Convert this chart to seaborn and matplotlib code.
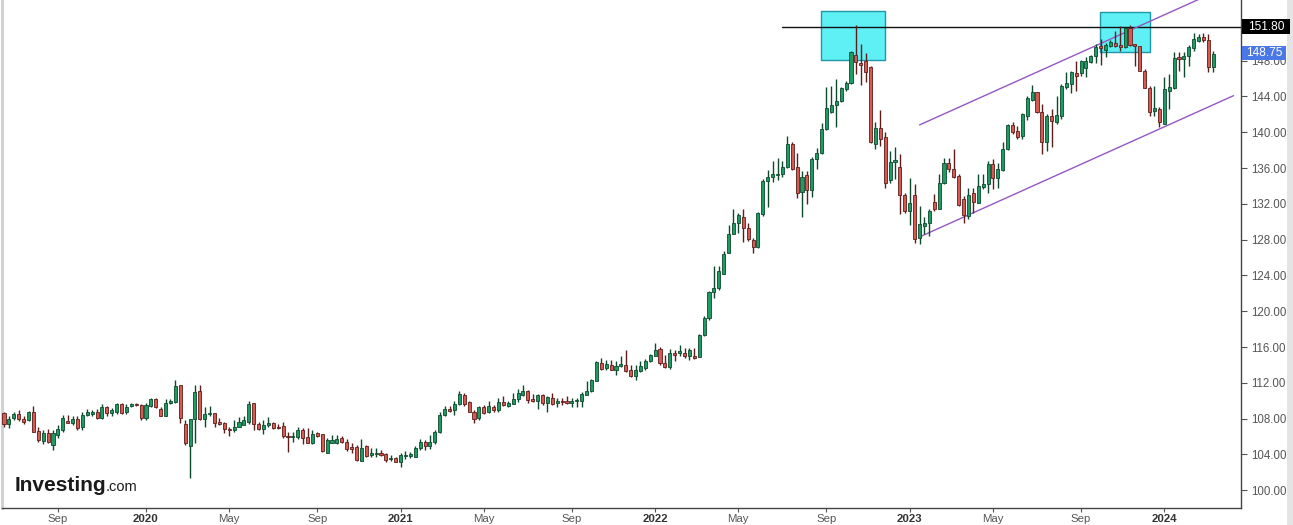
import numpy as np
import pandas as pd
import matplotlib
matplotlib.use("Agg")
import matplotlib.pyplot as plt
import seaborn as sns
from matplotlib.patches import Rectangle

# ---------------- data (weekly USD/JPY candles) ----------------
first_week = "2019-06-17"
opens = [
    108.62, 107.39, 108.05, 108.55, 107.95, 107.80, 108.70, 106.60, 105.50, 106.40,
    105.10, 106.20, 106.75, 107.76, 107.57, 107.95, 107.05, 108.43, 108.50, 108.73,
    108.13, 109.30, 108.62, 108.70, 109.63, 108.70, 109.44, 109.60, 109.55, 108.05,
    109.44, 110.22, 109.07, 108.35, 109.74, 109.85, 111.72, 107.40, 104.90, 107.95,
    111.10, 107.95, 108.55, 108.62, 107.68, 107.50, 106.87, 106.68, 107.12, 107.30,
    107.60, 109.74, 107.43, 106.83, 107.30, 107.50, 107.12, 107.20, 106.08, 105.93,
    105.93, 106.75, 105.99, 105.33, 106.38, 106.27, 104.20, 105.33, 105.33, 105.82,
    105.44, 104.88, 104.88, 103.32, 104.95, 103.95, 104.05, 104.20, 104.05, 103.50,
    103.65, 103.20, 103.84, 103.84, 103.77, 104.70, 105.40, 104.95, 105.45, 106.55,
    108.36, 109.10, 108.92, 109.66, 110.67, 109.81, 108.80, 108.06, 109.29, 108.70,
    109.25, 108.92, 109.85, 109.44, 109.66, 110.22, 110.67, 111.12, 110.22, 109.93,
    110.60, 109.74, 110.30, 109.74, 109.90, 109.93, 109.74, 110.00, 109.93, 110.67,
    111.05, 112.16, 114.22, 113.65, 114.03, 113.40, 113.92, 114.03, 113.47, 112.80,
    113.28, 113.66, 114.40, 115.04, 115.78, 114.22, 113.73, 115.34, 115.34, 115.34,
    114.96, 115.04, 114.89, 117.39, 119.26, 122.10, 122.62, 124.22, 126.47, 128.67,
    129.90, 130.57, 129.34, 127.96, 127.21, 130.83, 134.56, 135.05, 135.23, 135.31,
    136.13, 138.67, 136.17, 133.33, 135.20, 133.55, 137.07, 137.74, 140.35, 142.30,
    143.08, 143.53, 144.84, 145.47, 148.64, 147.74, 147.93, 147.26, 138.68, 140.43,
    139.42, 134.64, 136.73, 136.17, 132.96, 131.21, 132.96, 128.22, 129.53, 129.83,
    132.21, 131.46, 134.30, 136.62, 135.95, 135.13, 132.59, 130.64, 133.19, 132.14,
    133.93, 134.19, 136.43, 134.94, 135.80, 138.11, 140.80, 140.16, 139.53, 141.84,
    143.64, 144.46, 142.30, 138.86, 141.84, 141.10, 141.84, 145.02, 145.39, 146.62,
    146.62, 147.15, 147.90, 148.49, 149.61, 149.24, 149.68, 149.99, 149.76, 149.50,
    151.62, 149.87, 149.61, 146.88, 144.94, 142.40, 142.59, 140.91, 144.64, 144.94,
    148.38, 148.19, 148.49, 149.38, 150.24, 150.62, 150.32, 147.26,
]
highs = [
    108.80, 108.25, 108.80, 109.00, 108.25, 108.90, 109.40, 107.10, 106.75, 106.80,
    106.75, 107.30, 108.40, 108.43, 108.25, 108.25, 108.70, 109.07, 109.00, 109.07,
    109.60, 109.44, 109.20, 109.80, 109.80, 109.60, 109.80, 109.80, 109.63, 109.80,
    110.30, 110.30, 109.30, 110.20, 110.20, 112.35, 111.72, 107.87, 107.95, 111.80,
    111.80, 109.30, 109.44, 108.62, 108.05, 107.68, 107.12, 107.80, 108.17, 108.25,
    109.93, 109.74, 107.60, 107.87, 108.17, 107.68, 107.43, 107.68, 106.56, 106.56,
    107.12, 106.93, 106.93, 106.68, 106.56, 106.30, 105.82, 106.19, 106.19, 106.08,
    105.71, 105.26, 105.07, 105.70, 105.07, 104.70, 104.70, 104.50, 104.14, 103.95,
    103.67, 104.14, 104.40, 104.33, 104.95, 105.75, 105.60, 106.20, 106.70, 108.80,
    109.40, 109.40, 109.93, 111.05, 110.86, 109.93, 108.99, 109.44, 109.55, 109.93,
    109.55, 110.30, 110.48, 109.93, 110.86, 111.30, 111.79, 111.23, 110.75, 110.78,
    110.75, 110.48, 110.86, 110.30, 110.30, 110.56, 110.30, 110.30, 110.93, 112.16,
    112.43, 114.40, 114.78, 114.59, 114.52, 114.40, 115.04, 115.63, 114.03, 114.03,
    114.40, 114.66, 115.26, 116.46, 116.01, 115.15, 115.78, 115.71, 116.27, 115.90,
    115.90, 115.90, 117.50, 119.52, 122.24, 125.10, 125.04, 126.73, 129.60, 131.47,
    130.94, 131.47, 129.90, 128.22, 131.10, 134.75, 135.80, 136.80, 137.18, 136.80,
    139.53, 138.93, 137.66, 135.68, 135.68, 137.29, 138.19, 141.02, 145.10, 145.20,
    145.95, 145.10, 145.69, 149.12, 151.95, 149.87, 148.83, 147.44, 141.10, 142.48,
    140.05, 137.93, 138.30, 137.55, 133.26, 134.94, 134.19, 131.77, 130.57, 131.39,
    133.07, 135.31, 137.18, 137.18, 138.11, 135.31, 132.89, 133.82, 133.82, 135.31,
    135.31, 136.81, 137.00, 136.62, 138.86, 140.90, 141.10, 140.72, 142.14, 144.01,
    145.28, 144.53, 143.15, 142.03, 142.59, 144.01, 145.39, 146.70, 146.88, 148.00,
    148.12, 148.38, 148.64, 149.87, 150.40, 149.93, 150.30, 151.30, 151.90, 151.74,
    151.95, 149.87, 149.68, 147.07, 145.20, 145.20, 142.78, 146.14, 146.51, 148.94,
    148.94, 148.94, 149.76, 151.10, 150.99, 151.10, 150.99, 149.12,
]
lows = [
    107.12, 106.94, 107.87, 107.70, 107.40, 107.70, 106.50, 105.45, 105.20, 105.30,
    104.50, 105.80, 106.56, 107.50, 107.30, 106.75, 106.75, 108.25, 108.35, 107.98,
    107.98, 108.35, 108.35, 108.55, 108.50, 108.55, 109.30, 109.44, 107.87, 107.87,
    109.30, 109.20, 108.25, 108.25, 109.66, 109.74, 107.50, 105.07, 101.34, 105.26,
    107.80, 107.05, 108.32, 107.05, 107.30, 106.45, 106.10, 106.50, 107.12, 107.30,
    107.38, 106.68, 106.75, 106.30, 107.12, 106.83, 106.83, 105.82, 104.33, 105.44,
    105.70, 105.18, 105.26, 105.18, 105.93, 104.33, 104.14, 105.26, 105.18, 105.26,
    104.43, 104.14, 103.32, 103.32, 103.77, 103.77, 103.77, 103.84, 103.20, 103.28,
    103.20, 102.65, 103.50, 103.57, 103.70, 104.50, 104.50, 104.60, 105.20, 106.40,
    108.32, 108.70, 108.43, 109.55, 109.44, 108.70, 107.50, 107.80, 108.55, 108.62,
    108.70, 108.80, 109.44, 109.25, 109.66, 109.81, 110.56, 109.74, 109.81, 109.10,
    109.55, 108.80, 109.55, 109.36, 109.55, 109.66, 109.36, 109.29, 109.36, 110.67,
    110.97, 112.16, 113.47, 113.40, 113.40, 112.90, 113.77, 113.20, 112.65, 112.35,
    113.17, 113.47, 114.33, 115.04, 114.03, 113.66, 113.58, 114.40, 115.04, 114.78,
    114.52, 114.66, 114.89, 117.28, 119.07, 121.45, 122.43, 124.11, 126.47, 128.60,
    128.78, 127.77, 127.85, 126.54, 127.10, 130.64, 131.69, 134.45, 134.68, 135.05,
    136.06, 135.80, 132.70, 130.57, 131.96, 132.81, 135.95, 137.55, 140.24, 142.11,
    140.54, 143.34, 144.57, 145.39, 146.51, 145.32, 145.58, 138.75, 138.11, 138.49,
    133.82, 134.38, 134.75, 130.83, 130.95, 129.64, 127.59, 127.47, 128.60, 128.41,
    131.21, 131.39, 134.19, 135.58, 134.94, 131.76, 129.90, 130.35, 130.94, 132.07,
    133.63, 133.26, 133.63, 133.82, 135.69, 138.04, 139.79, 139.23, 139.23, 141.40,
    143.52, 142.14, 137.55, 137.93, 138.30, 140.91, 141.47, 144.83, 144.40, 144.64,
    146.32, 146.14, 147.74, 147.74, 147.52, 148.38, 149.50, 149.50, 149.10, 149.40,
    149.61, 147.45, 146.88, 144.91, 141.84, 141.84, 140.54, 140.91, 142.59, 144.83,
    146.88, 146.14, 147.45, 149.12, 150.06, 150.13, 146.70, 146.70,
]
closes = [
    107.39, 107.98, 108.55, 107.95, 107.60, 108.70, 106.56, 105.60, 106.40, 105.35,
    106.40, 106.90, 108.05, 107.57, 107.95, 106.94, 108.43, 108.70, 108.80, 108.13,
    109.36, 108.62, 108.92, 109.63, 108.62, 109.36, 109.63, 109.55, 108.05, 109.55,
    110.22, 109.30, 108.35, 109.80, 109.93, 111.60, 108.05, 105.33, 107.95, 110.93,
    107.95, 108.50, 108.62, 107.50, 107.43, 106.87, 106.68, 107.12, 107.65, 107.87,
    109.66, 107.43, 106.87, 107.30, 107.50, 106.95, 106.93, 106.10, 105.93, 106.08,
    106.68, 105.82, 105.33, 106.30, 106.08, 104.43, 105.63, 105.63, 105.71, 105.44,
    104.62, 104.62, 103.39, 104.70, 103.84, 104.20, 104.20, 103.95, 103.39, 103.57,
    103.20, 103.95, 103.95, 104.07, 104.70, 105.40, 104.95, 105.45, 106.55, 108.43,
    109.10, 108.88, 109.66, 110.75, 109.66, 108.80, 107.95, 109.29, 108.62, 109.44,
    108.92, 109.81, 109.48, 109.74, 110.18, 110.86, 111.12, 110.11, 110.03, 110.60,
    109.74, 110.37, 109.63, 109.93, 109.85, 109.74, 110.03, 110.10, 110.78, 111.12,
    112.35, 114.29, 113.55, 114.10, 113.47, 113.92, 114.10, 113.28, 112.80, 113.47,
    113.84, 114.48, 115.15, 115.63, 114.22, 113.73, 115.34, 115.15, 115.52, 114.96,
    115.71, 114.78, 117.39, 119.26, 122.13, 122.62, 124.48, 126.43, 128.67, 129.90,
    130.72, 129.34, 128.03, 127.21, 130.94, 134.56, 135.05, 135.31, 135.38, 136.13,
    138.67, 135.87, 133.26, 135.05, 133.55, 137.07, 137.74, 140.35, 142.67, 143.08,
    143.45, 144.91, 145.47, 148.94, 147.82, 147.56, 146.70, 138.86, 140.43, 139.23,
    134.38, 136.73, 136.88, 132.96, 131.21, 132.14, 128.03, 129.71, 129.90, 131.21,
    131.47, 134.30, 136.62, 135.95, 135.05, 131.84, 130.72, 132.96, 132.22, 134.00,
    134.26, 136.43, 134.94, 135.87, 138.11, 140.80, 140.05, 139.42, 142.03, 143.82,
    144.46, 142.22, 138.86, 141.84, 141.29, 141.92, 145.20, 145.50, 146.70, 146.32,
    148.00, 148.00, 148.57, 149.50, 149.42, 149.80, 150.06, 149.68, 149.50, 151.64,
    149.76, 149.61, 146.88, 144.91, 142.22, 142.66, 141.17, 144.83, 145.02, 148.27,
    148.19, 148.57, 149.50, 150.43, 150.62, 150.32, 147.26, 148.75,
]
y_ticks = [100, 104, 108, 112, 116, 120, 124, 128, 132, 136, 140, 144, 148, 152]
x_tick_months = ["2019-09", "2020-01", "2020-05", "2020-09", "2021-01", "2021-05",
                 "2021-09", "2022-01", "2022-05", "2022-09", "2023-01", "2023-05",
                 "2023-09", "2024-01"]
x_tick_labels = ["Sep", "2020", "May", "Sep", "2021", "May", "Sep", "2022", "May",
                 "Sep", "2023", "May", "Sep", "2024"]
resistance_level = 151.80
last_price = 148.75
# annotation geometry (dates / price levels)
resistance_start = "2022-07-03"
box_zones = [("2022-08-28", "2022-11-28", 148.1, 153.55),
             ("2023-10-01", "2023-12-11", 148.95, 153.45)]
channel_upper = (["2023-01-16", "2024-04-19"], [140.82, 156.95])
channel_lower = (["2023-01-17", "2024-04-09"], [128.34, 144.09])

# ---------------- frame ----------------
dates = pd.date_range(first_week, periods=len(opens), freq="7D")
df = pd.DataFrame({"date": dates, "open": opens, "high": highs,
                   "low": lows, "close": closes})
df["up"] = df["close"] >= df["open"]

sns.set_style("white")
plt.rcParams["font.family"] = ["Liberation Sans", "DejaVu Sans"]

W, H = 1293, 525
fig = plt.figure(figsize=(W / 100, H / 100), dpi=100)
fig.patch.set_facecolor("white")
ax = fig.add_axes([2 / W, 17 / H, (1241 - 2) / W, 508 / H])
ax.set_facecolor("white")

# right grey strip
fig.add_artist(Rectangle((1287 / W, 0), 6 / W, 1, transform=fig.transFigure,
                         facecolor="#e4e4e4", edgecolor="none", zorder=0))

GREEN_FILL, GREEN_EDGE = "#1f9a62", "#0d4a2d"
RED_FILL, RED_EDGE = "#d65a52", "#5e1d1a"

# cyan zones (below candles)
for x0, x1, y0, y1 in box_zones:
    d0, d1 = pd.Timestamp(x0), pd.Timestamp(x1)
    ax.add_patch(Rectangle((d0, y0), d1 - d0, y1 - y0, facecolor="#5ef0f5",
                           edgecolor="#1f97a8", linewidth=1.0, zorder=1))

# resistance line
sns.lineplot(x=[pd.Timestamp(resistance_start), pd.Timestamp("2024-05-01")],
             y=[resistance_level, resistance_level], ax=ax, color="#111111",
             linewidth=1.0, zorder=2)

# channel lines
for xs, ys in (channel_upper, channel_lower):
    sns.lineplot(x=pd.to_datetime(xs), y=ys, ax=ax, color="#9457c4",
                 linewidth=1.0, zorder=2)

# wicks
wick_col = np.where(df["up"], GREEN_EDGE, RED_EDGE)
ax.vlines(df["date"], df["low"], df["high"], colors=wick_col, linewidth=1.0, zorder=3)
# bodies
body_low = np.minimum(df["open"], df["close"])
body_h = np.maximum((df["close"] - df["open"]).abs(), 0.12)
ax.bar(df["date"], body_h, bottom=body_low, width=4.4,
       color=np.where(df["up"], GREEN_FILL, RED_FILL),
       edgecolor=wick_col, linewidth=0.6, zorder=4)

# limits
x_left = dates[0] - pd.Timedelta(days=2.9)
x_right = dates[0] + pd.Timedelta(days=1768.7)
ax.set_xlim(x_left, x_right)
ax.set_ylim(98.02, 154.78)

# y axis on right
ax.yaxis.tick_right()
ax.set_yticks(y_ticks)
ax.set_yticklabels([f"{v:.2f}" for v in y_ticks])
ax.tick_params(axis="y", which="major", right=True, length=4, width=0.8,
               color="#555555", labelsize=8.3, labelcolor="#555555", pad=3)

# x axis ticks at first weekly candle of the month
tick_pos = []
for m in x_tick_months:
    start = pd.Timestamp(m + "-01")
    tick_pos.append(dates[dates >= start][0])
ax.set_xticks(tick_pos)
ax.set_xticklabels(x_tick_labels)
ax.tick_params(axis="x", which="major", bottom=True, length=3, width=0.8,
               color="#555555", labelsize=8.2, labelcolor="#555555", pad=1.0)
for lbl in ax.get_xticklabels():
    if lbl.get_text().isdigit():
        lbl.set_fontweight("bold")
        lbl.set_color("#333333")

ax.spines["top"].set_visible(False)
ax.spines["right"].set_color("#444444")
ax.spines["right"].set_linewidth(1.0)
ax.spines["bottom"].set_color("#444444")
ax.spines["bottom"].set_linewidth(1.0)
ax.spines["left"].set_color("#cfcfcf")
ax.spines["left"].set_linewidth(2.0)
ax.grid(False)

# price tags (drawn in figure pixels, over the axis labels)
def price_tag(ypix_top, ypix_bot, xpix_right, text, face):
    fig.add_artist(Rectangle((1242 / W, 1 - ypix_bot / H), (xpix_right - 1242) / W,
                             (ypix_bot - ypix_top) / H, transform=fig.transFigure,
                             facecolor=face, edgecolor="none", zorder=10))
    fig.text((1242 + xpix_right) / 2 / W, 1 - (ypix_top + ypix_bot) / 2 / H, text,
             ha="center", va="center", color="white", fontsize=8.6, zorder=11)

price_tag(19, 34, 1290, f"{resistance_level:.2f}", "#000000")
price_tag(46, 60, 1286, f"{last_price:.2f}", "#4a78e6")

# watermark logo
fig.text(15 / W, 1 - 491 / H, "Investing", fontsize=15, fontweight="bold",
         color="#1a1a1a", ha="left", va="baseline")
fig.text(106 / W, 1 - 491 / H, ".com", fontsize=10.5, color="#1a1a1a",
         ha="left", va="baseline")

fig.savefig("out.png", dpi=100, facecolor="white")
